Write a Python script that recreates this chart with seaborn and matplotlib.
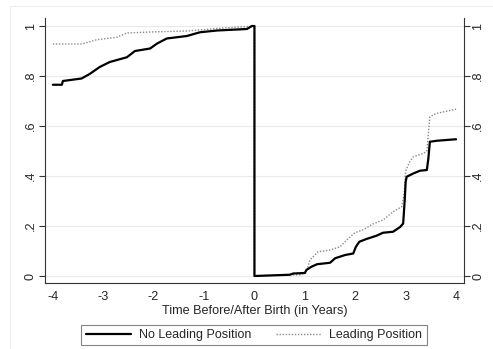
import matplotlib
matplotlib.use('Agg')
import matplotlib.pyplot as plt
import seaborn as sb
import pandas as pd
import numpy as np
from matplotlib.patches import Rectangle


# share over time (x in years relative to birth)
time_no_lead = [-4.0, -3.82, -3.8, -3.43, -3.27, -3.07, -2.87, -2.53, -2.37, -2.07, -1.93,
                -1.74, -1.34, -1.08, -0.74, -0.15, -0.05, 0.0,
                0.0, 0.7, 0.77, 1.0, 1.03, 1.13, 1.24, 1.5, 1.6, 1.8, 1.96, 2.01, 2.08,
                2.22, 2.42, 2.55, 2.75, 2.89, 2.95, 2.98, 3.0, 3.02, 3.15, 3.28, 3.42,
                3.45, 3.48, 3.62, 4.0]
share_no_lead = [0.765, 0.765, 0.78, 0.79, 0.808, 0.836, 0.856, 0.875, 0.90, 0.91, 0.93,
                 0.95, 0.96, 0.975, 0.982, 0.988, 1.0, 1.0,
                 0.0, 0.005, 0.01, 0.012, 0.024, 0.037, 0.047, 0.053, 0.071, 0.084, 0.09,
                 0.116, 0.137, 0.148, 0.161, 0.173, 0.177, 0.196, 0.21, 0.30, 0.377,
                 0.397, 0.41, 0.421, 0.424, 0.47, 0.537, 0.541, 0.547]

time_lead = [-4.0, -3.42, -3.13, -2.73, -2.53, -1.93, -1.34, -0.74, 0.0,
             0.0, 0.9, 1.0, 1.05, 1.1, 1.26, 1.5, 1.7, 1.83, 1.99, 2.15, 2.35, 2.55,
             2.75, 2.92, 2.97, 3.0, 3.08, 3.15, 3.35, 3.42, 3.48, 3.6, 4.0]
share_lead = [0.928, 0.928, 0.945, 0.955, 0.972, 0.977, 0.98, 0.99, 1.0,
              0.0, 0.005, 0.012, 0.03, 0.064, 0.097, 0.104, 0.117, 0.144, 0.173, 0.184,
              0.208, 0.224, 0.257, 0.277, 0.33, 0.42, 0.457, 0.477, 0.49, 0.50, 0.637,
              0.65, 0.667]

x_ticks = [-4, -3, -2, -1, 0, 1, 2, 3, 4]
y_ticks = [0, 0.2, 0.4, 0.6, 0.8, 1.0]
y_tick_labels = ['0', '.2', '.4', '.6', '.8', '1']

sb.set_style('white')
plt.rcParams['font.family'] = ['Liberation Sans', 'DejaVu Sans']

fig = plt.figure(figsize=(4.93, 3.49), dpi=100)
ax = fig.add_axes([45 / 493, 1 - 283 / 349, (464 - 45) / 493, (283 - 18) / 349])

# faint outer graph region border
fig.patches.append(Rectangle((10 / 493, -0.1), 1.2, 1 - 6 / 349 + 0.1, transform=fig.transFigure,
                             fill=False, edgecolor='#eeeeee', linewidth=0.8))

df_no = pd.DataFrame({'t': time_no_lead, 's': share_no_lead})
df_lead = pd.DataFrame({'t': time_lead, 's': share_lead})

sb.lineplot(data=df_lead, x='t', y='s', sort=False, estimator=None, errorbar=None, ax=ax,
            color='#8a8a8a', linestyle=(0, (1, 1.2)), linewidth=1.0, label='Leading Position')
sb.lineplot(data=df_no, x='t', y='s', sort=False, estimator=None, errorbar=None, ax=ax,
            color='black', linewidth=1.6, label='No Leading Position')

for yv in y_ticks:
    ax.axhline(yv, color='#eaeaea', linewidth=0.8, zorder=0)

ax.set_xlim(-4.155, 4.157)
ax.set_ylim(-0.028, 1.032)
ax.set_xticks(x_ticks)
ax.set_xticklabels([str(v) for v in x_ticks])
ax.set_yticks(y_ticks)
ax.set_yticklabels(y_tick_labels)
ax.set_xlabel('Time Before/After Birth (in Years)', fontsize=9.1, labelpad=1)
ax.set_ylabel('')

for side in ['left', 'bottom', 'right']:
    ax.spines[side].set_visible(True)
    ax.spines[side].set_color('#333333')
    ax.spines[side].set_linewidth(0.8)
ax.spines['top'].set_visible(False)

ax.tick_params(axis='both', direction='out', length=4, width=0.8, color='#333333',
               labelsize=9.1, pad=2)
ax.tick_params(axis='y', left=True, right=True, labelleft=True, labelright=True,
               labelrotation=90)
for lab in ax.get_yticklabels():
    lab.set_va('center')

handles, labels = ax.get_legend_handles_labels()
ax.get_legend().remove()
order = [1, 0]
leg = fig.legend([handles[i] for i in order], [labels[i] for i in order],
                 loc='center', bbox_to_anchor=(254 / 493, 1 - 335 / 349), ncol=2,
                 frameon=True, fancybox=False, fontsize=9, handlelength=3.6,
                 columnspacing=1.9, borderpad=0.35, handletextpad=0.7)
leg.get_frame().set_edgecolor('#666666')
leg.get_frame().set_linewidth(0.8)

plt.savefig('out.png', dpi=100)
